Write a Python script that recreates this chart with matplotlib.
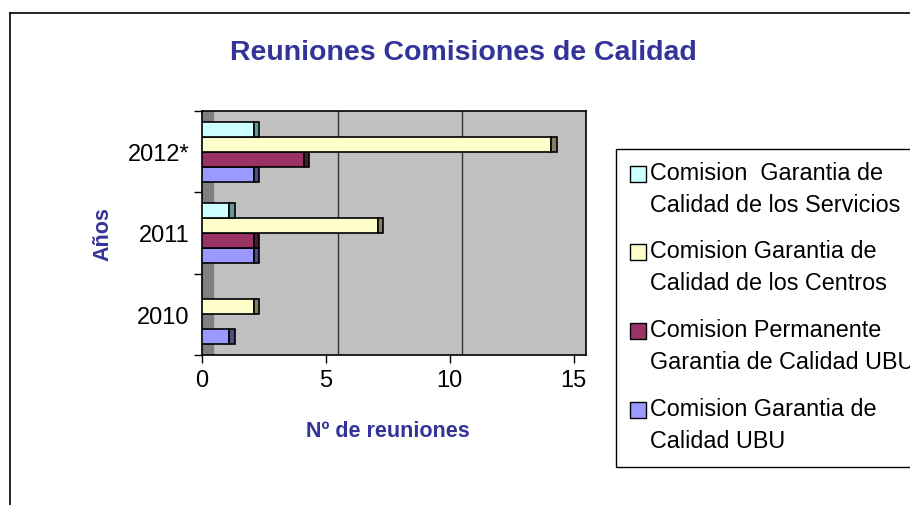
import numpy as np
import matplotlib
matplotlib.use('Agg')
import matplotlib.pyplot as plt
from matplotlib.patches import Rectangle

plt.rcParams['font.family'] = ['Liberation Sans', 'DejaVu Sans']

years = ['2010', '2011', '2012*']
# series from bottom to top inside each year group
series_names = [
    'Comision Garantia de\nCalidad UBU',
    'Comision Permanente\nGarantia de Calidad UBU',
    'Comision Garantia de\nCalidad de los Centros',
    'Comision  Garantia de\nCalidad de los Servicios',
]
ubu = [1, 2, 2]
permanente = [0, 2, 4]
centros = [2, 7, 14]
servicios = [0, 1, 2]
series_values = [ubu, permanente, centros, servicios]

face_colors = ['#9999FF', '#993366', '#FFFFCC', '#CCFFFF']
side_colors = ['#4D4D80', '#4D1A33', '#808066', '#669999']
title_color = '#333399'

W, H = 910, 506
fig = plt.figure(figsize=(W / 100, H / 100), dpi=100)

# outer chart border (only top and left are visible in the crop)
fig.add_artist(plt.Line2D([10 / W, 10 / W], [0, 1 - 14 / H], transform=fig.transFigure, color='black', lw=1.2))
fig.add_artist(plt.Line2D([10 / W, 1], [1 - 14 / H, 1 - 14 / H], transform=fig.transFigure, color='black', lw=1.2))

ax = fig.add_axes([202 / W, 1 - 356 / H, 384 / W, 244 / H])
ax.set_facecolor('#C0C0C0')

depth = 0.5
ax.set_xlim(0, 15 + depth)
ax.set_ylim(-0.5, len(years) - 0.5)

# back wall on the left
ax.axvspan(0, 0.45, color='#808080', zorder=0.5)
for gx in [5, 10]:
    ax.axvline(gx + depth, color='#333333', lw=1, zorder=0.6)

y = np.arange(len(years))
bar_h = 0.185
for i, vals in enumerate(series_values):
    offs = y + (i - 1.5) * bar_h
    for yy, v in zip(offs, vals):
        if v == 0:
            continue
        ax.barh(yy, v + 0.1, height=bar_h, left=0, color=face_colors[i],
                edgecolor='black', lw=1.2, zorder=3)
        ax.barh(yy, 0.22, height=bar_h, left=v + 0.1, color=side_colors[i],
                edgecolor='black', lw=1.2, zorder=3)

for side in ['top', 'right', 'bottom', 'left']:
    ax.spines[side].set_color('black')
    ax.spines[side].set_linewidth(1.2)

ax.set_xticks([0, 5, 10, 15])
ax.set_xticklabels(['0', '5', '10', '15'], fontsize=17)
ax.tick_params(axis='x', length=6, width=1, pad=4, direction='out')
ax.set_yticks(y)
ax.set_yticklabels(years, fontsize=17)
ax.set_yticks(np.arange(-0.5, len(years)), minor=True)
ax.tick_params(axis='y', which='major', length=0, pad=9)
ax.tick_params(axis='y', which='minor', length=6, width=1, direction='out')

fig.text(463 / W, 1 - 53 / H, 'Reuniones Comisiones de Calidad', ha='center', va='center',
         fontsize=20.5, fontweight='bold', color=title_color)
fig.text(388 / W, 1 - 432 / H, 'Nº de reuniones', ha='center', va='center',
         fontsize=15.5, fontweight='bold', color=title_color)
fig.text(103 / W, 1 - 234 / H, 'Años', ha='center', va='center', rotation=90,
         fontsize=15.5, fontweight='bold', color=title_color)

# legend box, drawn by hand (it runs past the right edge of the image)
fig.add_artist(Rectangle((616 / W, 1 - 468 / H), 320 / W, 318 / H, transform=fig.transFigure,
                         facecolor='white', edgecolor='black', lw=1))
first_lines = [175, 253, 332, 411]
legend_order = [3, 2, 1, 0]
for row, idx in zip(first_lines, legend_order):
    fig.add_artist(Rectangle((630 / W, 1 - (row + 8) / H), 16 / W, 16 / H, transform=fig.transFigure,
                             facecolor=face_colors[idx], edgecolor='black', lw=1))
    fig.text(650 / W, 1 - (row + 14.5) / H, series_names[idx], ha='left', va='center',
             fontsize=16.8, linespacing=1.45, color='black')

fig.savefig('out.png', dpi=100)
